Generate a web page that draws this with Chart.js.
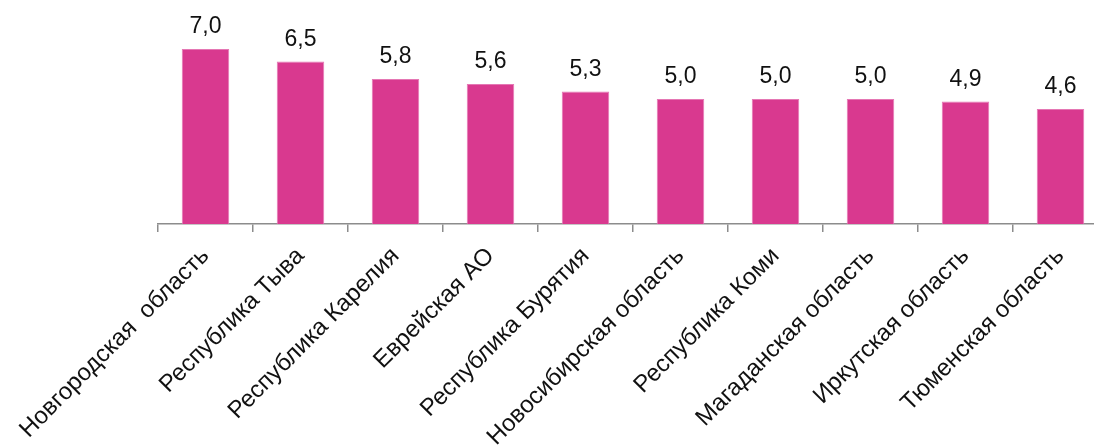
<!DOCTYPE html>
<html>
<head>
<meta charset="utf-8">
<script src="https://cdn.jsdelivr.net/npm/chart.js@4"></script>
<style>
  html, body { margin: 0; padding: 0; background: #fff; overflow: hidden; }
  #wrap { width: 1110px; height: 447px; }
</style>
</head>
<body>
<div id="wrap"><canvas id="regionChart"></canvas></div>
<script>
// regions and values
const regions = [
  'Новгородская  область',
  'Республика Тыва',
  'Республика Карелия',
  'Еврейская АО',
  'Республика Бурятия',
  'Новосибирская область',
  'Республика Коми',
  'Магаданская область',
  'Иркутская область',
  'Тюменская область'
];
const values = [7.0, 6.5, 5.8, 5.6, 5.3, 5.0, 5.0, 5.0, 4.9, 4.6];

const FONT = '"Liberation Sans", Arial, sans-serif';

// value labels above each bar
const valueLabels = {
  id: 'valueLabels',
  afterDatasetsDraw(chart) {
    const ctx = chart.ctx;
    const meta = chart.getDatasetMeta(0);
    ctx.save();
    ctx.font = '23px ' + FONT;
    ctx.fillStyle = '#111';
    ctx.textAlign = 'center';
    ctx.textBaseline = 'alphabetic';
    meta.data.forEach((bar, i) => {
      ctx.fillText(values[i].toFixed(1).replace('.', ','), bar.x, bar.y - 16);
    });
    ctx.restore();
  }
};

new Chart(document.getElementById('regionChart'), {
  type: 'bar',
  data: {
    labels: regions,
    datasets: [{
      data: values,
      backgroundColor: '#D9398F',
      borderColor: '#E577B4',
      borderWidth: 1,
      barPercentage: 0.5,
      categoryPercentage: 1.0
    }]
  },
  options: {
    responsive: true,
    maintainAspectRatio: false,
    animation: false,
    layout: { padding: { left: 158, top: 24, right: 2, bottom: 0 } },
    plugins: { legend: { display: false }, tooltip: { enabled: false } },
    scales: {
      x: {
        grid: {
          offset: true,
          drawOnChartArea: false,
          drawTicks: true,
          tickLength: 8,
          color: '#8c8c8c',
          lineWidth: 1.5
        },
        border: { display: true, color: '#8c8c8c', width: 1.5 },
        ticks: {
          maxRotation: 45,
          minRotation: 45,
          autoSkip: false,
          padding: 10,
          color: '#111',
          font: { family: FONT, size: 24 }
        },
        afterFit(scale) { scale.height = 223; }
      },
      y: {
        display: false,
        min: 0,
        max: 8
      }
    }
  },
  plugins: [valueLabels]
});
</script>
</body>
</html>
